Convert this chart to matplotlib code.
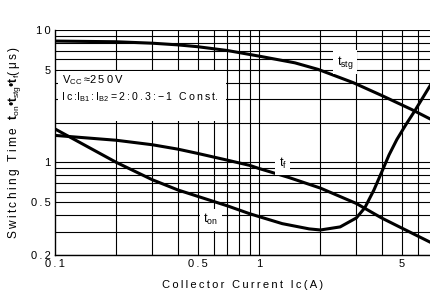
import matplotlib
matplotlib.use("Agg")
import matplotlib.pyplot as plt
from matplotlib.ticker import FixedLocator, NullFormatter, NullLocator

plt.rcParams['font.family'] = ['Liberation Sans', 'DejaVu Sans']
plt.rcParams['mathtext.fontset'] = 'custom'
plt.rcParams['mathtext.rm'] = 'Liberation Sans'
plt.rcParams['mathtext.it'] = 'Liberation Sans'
plt.rcParams['mathtext.bf'] = 'Liberation Sans:bold'

# collector current Ic (A) and switching times (us)
ic_stg = [0.1, 0.2, 0.3, 0.4, 0.5, 0.7, 1.0, 1.5, 1.95, 2.9, 4.0, 5.6, 6.9]
t_stg = [8.25, 8.15, 7.95, 7.72, 7.48, 7.0, 6.35, 5.65, 5.04, 4.0, 3.2, 2.51, 2.13]

ic_f = [0.1, 0.2, 0.3, 0.4, 0.5, 0.7, 0.9, 1.0, 1.4, 2.0, 3.0, 4.0, 5.0, 6.9]
t_f = [1.60, 1.47, 1.36, 1.26, 1.17, 1.04, 0.95, 0.9, 0.77, 0.64, 0.49, 0.38, 0.32, 0.25]

ic_on = [0.1, 0.2, 0.3, 0.4, 0.5, 0.7, 0.9, 1.0, 1.3, 1.76, 2.0, 2.5, 3.0, 3.3,
         3.66, 4.0, 4.34, 4.74, 5.25, 5.8, 6.9]
t_on = [1.79, 1.0, 0.74, 0.62, 0.555, 0.47, 0.41, 0.39, 0.345, 0.315, 0.309, 0.326,
        0.381, 0.454, 0.62, 0.85, 1.14, 1.49, 1.93, 2.45, 3.8]

x_ticks = [0.1, 0.5, 1, 5]
x_ticklabels = ['0.1', '0.5', '1', '5']
y_ticks = [0.2, 0.5, 1, 5, 10]
y_ticklabels = ['0.2', '0.5', '1', '5', '10']


def sp(s):
    # the original lettering is widely spaced
    return '\u2009'.join(s)


fig = plt.figure(figsize=(4.3, 3.02), dpi=100)
ax = fig.add_axes([55 / 430, 1 - 255 / 302, 1 - 55 / 430, 225 / 302])
ax.set_xscale('log')
ax.set_yscale('log')
ax.set_xlim(0.1, 6.89)
ax.set_ylim(0.2, 10)

# grid lines at every 1-9 step
xg = [m * 10 ** e for e in (-1, 0) for m in range(1, 10)]
yg = [m * 10 ** e for e in (-1, 0, 1) for m in range(1, 10)]
for v in xg:
    if 0.1 < v < 6.89:
        ax.axvline(v, color='black', lw=0.8, zorder=1)
for v in yg:
    if 0.2 <= v <= 10:
        ax.axhline(v, color='black', lw=0.8, zorder=1)

ax.plot(ic_stg, t_stg, color='black', lw=2.2, zorder=3)
ax.plot(ic_f, t_f, color='black', lw=2.2, zorder=3)
ax.plot(ic_on, t_on, color='black', lw=2.2, zorder=3)

box = dict(facecolor='white', edgecolor='none', pad=2.5)
ax.text(2.64, 5.7, r'$\mathrm{t_{stg}}$', fontsize=9, ha='center', va='center', bbox=box, zorder=4)
ax.text(1.31, 0.98, r'$\mathrm{t_{f}}$', fontsize=9, ha='center', va='center', bbox=box, zorder=4)
ax.text(0.58, 0.37, r'$\mathrm{t_{on}}$', fontsize=9, ha='center', va='center', bbox=box, zorder=4)

# condition text on a white patch
ax.fill_between([0.103, 0.69], 2.04, 4.93, color='white', zorder=2, lw=0)
ax.text(0.108, 4.2, r'V$_{\mathrm{CC}}$' + '\u2009≈' + sp('250V'), fontsize=8,
        ha='left', va='center', zorder=4)
ax.text(0.107, 3.1, r'I' + '\u2009' + sp('c:') + r'I$_{\mathrm{B1}}$' + '\u2009:\u2009'
        + r'I$_{\mathrm{B2}}$' + '\u2009' + sp('=2:0.3:−1 Const') + '.', fontsize=7.6,
        ha='left', va='center', zorder=4)

ax.xaxis.set_major_locator(FixedLocator(x_ticks))
ax.xaxis.set_ticklabels([sp(t) for t in x_ticklabels])
ax.xaxis.set_minor_locator(NullLocator())
ax.xaxis.set_minor_formatter(NullFormatter())
ax.yaxis.set_major_locator(FixedLocator(y_ticks))
ax.yaxis.set_ticklabels([sp(t) for t in y_ticklabels])
ax.yaxis.set_minor_locator(NullLocator())
ax.yaxis.set_minor_formatter(NullFormatter())
ax.tick_params(length=0, labelsize=8, pad=3)

for s in ['top', 'right']:
    ax.spines[s].set_visible(False)
ax.spines['left'].set_linewidth(1.0)
ax.spines['bottom'].set_linewidth(1.0)

ax.set_xlabel(sp('Collector Current Ic(A)'), fontsize=8, labelpad=8)
ax.set_ylabel(sp('Switching Time') + '\u2009 \u2009'
              + r'$\mathbf{t}_{\mathrm{on}}$•$\mathbf{t}_{\mathrm{stg}}$•$\mathbf{t}_{\mathrm{f}}$'
              + sp('(μs)'), fontsize=8.6, labelpad=6)

fig.savefig('out.png', dpi=100)
